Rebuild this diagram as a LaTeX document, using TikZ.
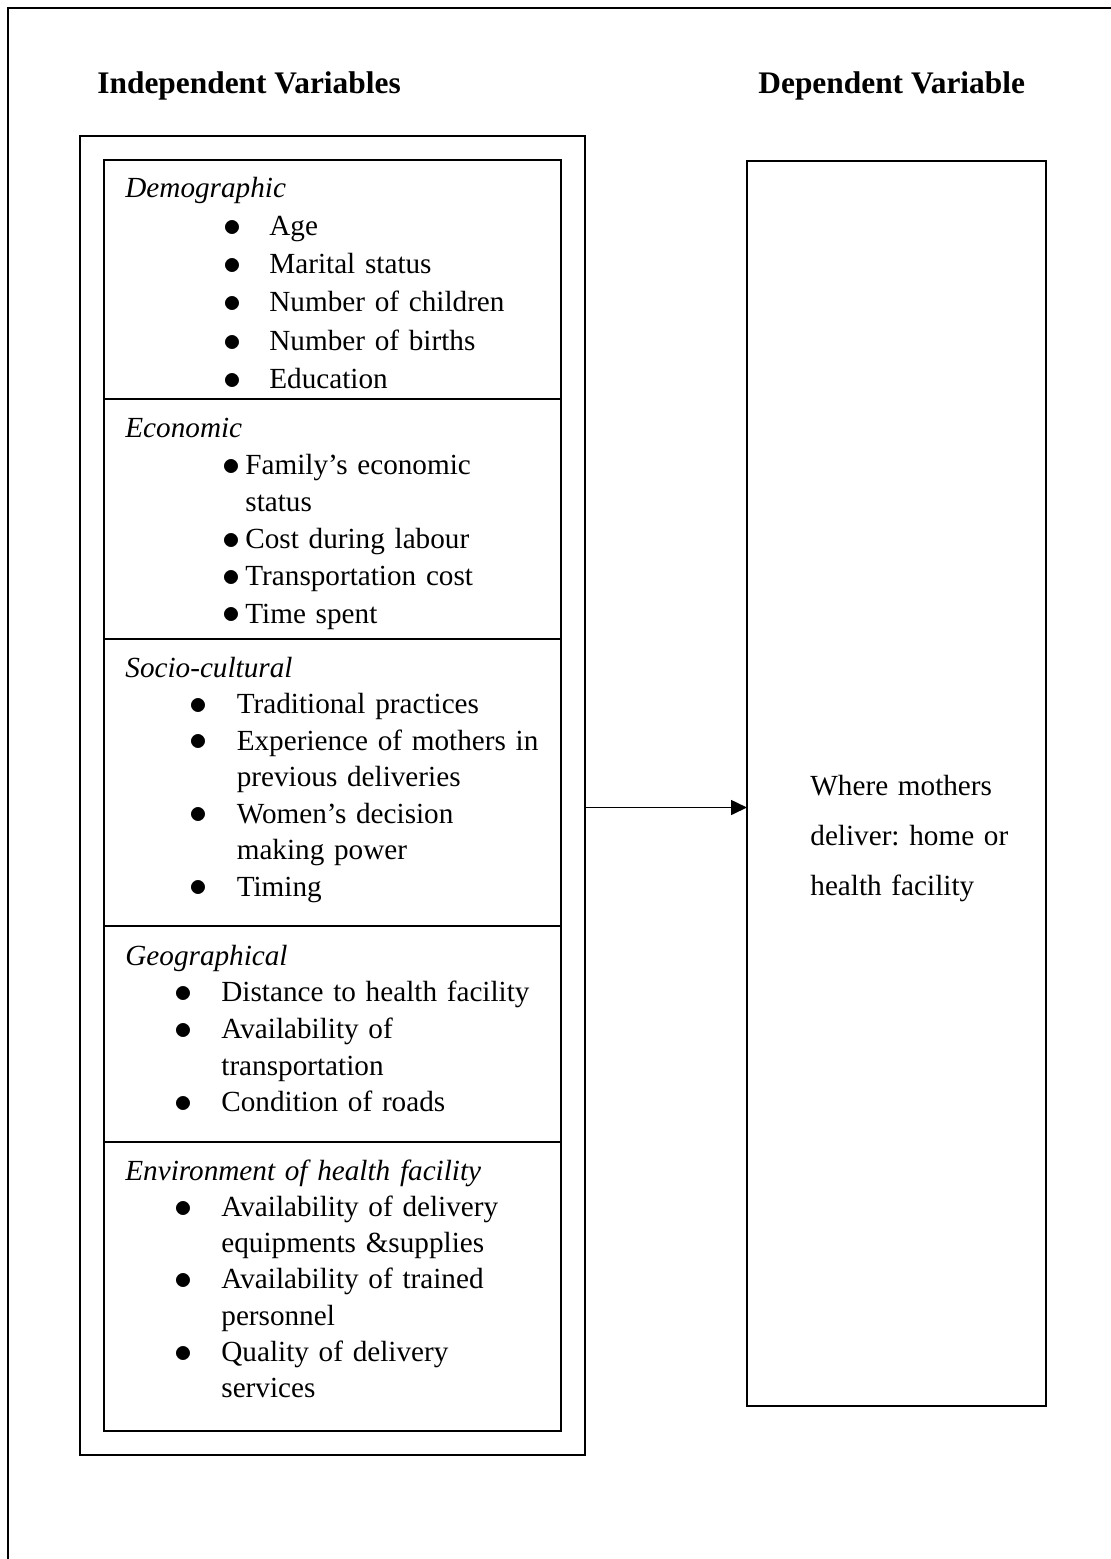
\documentclass[tikz,border=0pt]{standalone}
\usepackage{fontspec}
\setmainfont{Liberation Serif}
\usetikzlibrary{arrows.meta,positioning}

\newlength\bulx
\newlength\gapx
\newcommand{\itm}[1]{\hspace*{\bulx}\makebox[\gapx][l]{\raisebox{-0.4pt}{\scalebox{1.25}{$\bullet$}}}#1}
\newcommand{\cnt}[1]{\hspace*{\bulx}\hspace*{\gapx}#1}

\tikzset{
  sect/.style = {draw, line width=1pt, inner sep=0pt, outer sep=0pt,
                 minimum width=228.25pt, anchor=north west},
  items/.style = {anchor=base west, inner sep=0pt, text width=230pt,
                  font=\fontsize{14.6}{#1}\selectfont\frenchspacing},
  head/.style = {anchor=base west, inner sep=0pt,
                 font=\fontsize{15.7}{18}\selectfont\bfseries},
  flow/.style = {-{Triangle[length=8pt,width=7.5pt]}, line width=0.8pt}
}

\begin{document}
\begin{tikzpicture}[x=0.5pt, y=-0.5pt]
            \useasboundingbox (0,0) rectangle (1111,1559);
            % page frame, only top and left edges show
            \draw[line width=1pt] (8,1559) -- (8,8) -- (1111,8);

            \node[head] (indeph) at (97,93) {Independent Variables};
            \node[head] (deph) at (758,93) {Dependent Variable};

            % boxes
            \node[sect, minimum width=252.25pt, minimum height=659.75pt] (indep) at (80,135.5) {};
            \node[sect, minimum height=119.5pt] (demo) at (104,160) {};
            \node[sect, minimum height=120pt] (econ) at (demo.south west) {};
            \node[sect, minimum height=143.5pt] (socio) at (econ.south west) {};
            \node[sect, minimum height=108pt] (geo) at (socio.south west) {};
            \node[sect, minimum height=144.5pt] (envir) at (geo.south west) {};
            \node[sect, minimum width=149.5pt, minimum height=622.75pt] (dep) at (747,160.5) {};

            % texts
            \node[items=19.15pt] (demotxt) at (125,197) {\setlength\bulx{49pt}\setlength\gapx{23pt}%
                \textit{Demographic}\\
                \itm{Age}\\
                \itm{Marital status}\\
                \itm{Number of children}\\
                \itm{Number of births}\\
                \itm{Education}};
            \node[items=18.6pt] (econtxt) at (125,437) {\setlength\bulx{48.5pt}\setlength\gapx{11.5pt}%
                \textit{Economic}\\
                \itm{Family's economic}\\
                \cnt{status}\\
                \itm{Cost during labour}\\
                \itm{Transportation cost}\\
                \itm{Time spent}};
            \node[items=18.25pt] (sociotxt) at (125,677) {\setlength\bulx{32pt}\setlength\gapx{23.7pt}%
                \textit{Socio-cultural}\\
                \itm{Traditional practices}\\
                \itm{Experience of mothers in}\\
                \cnt{previous deliveries}\\
                \itm{Women's decision}\\
                \cnt{making power}\\
                \itm{Timing}};
            \node[items=18.35pt] (geotxt) at (125,965) {\setlength\bulx{24.5pt}\setlength\gapx{23.5pt}%
                \textit{Geographical}\\
                \itm{Distance to health facility}\\
                \itm{Availability of}\\
                \cnt{transportation}\\
                \itm{Condition of roads}};
            \node[items=18.15pt] (envirtxt) at (125,1180) {\setlength\bulx{24.5pt}\setlength\gapx{23.5pt}%
                \textit{Environment of health facility}\\
                \itm{Availability of delivery}\\
                \cnt{equipments \&supplies}\\
                \itm{Availability of trained}\\
                \cnt{personnel}\\
                \itm{Quality of delivery}\\
                \cnt{services}};
            \node[items=25pt, text width=110pt] (deptxt) at (810,795) {Where mothers\\
                deliver: home or\\
                health facility};

            \coordinate (arr) at (0,807.5);
            \draw[flow] (indep.east |- arr) -- (dep.west |- arr);
        \end{tikzpicture}
\end{document}
